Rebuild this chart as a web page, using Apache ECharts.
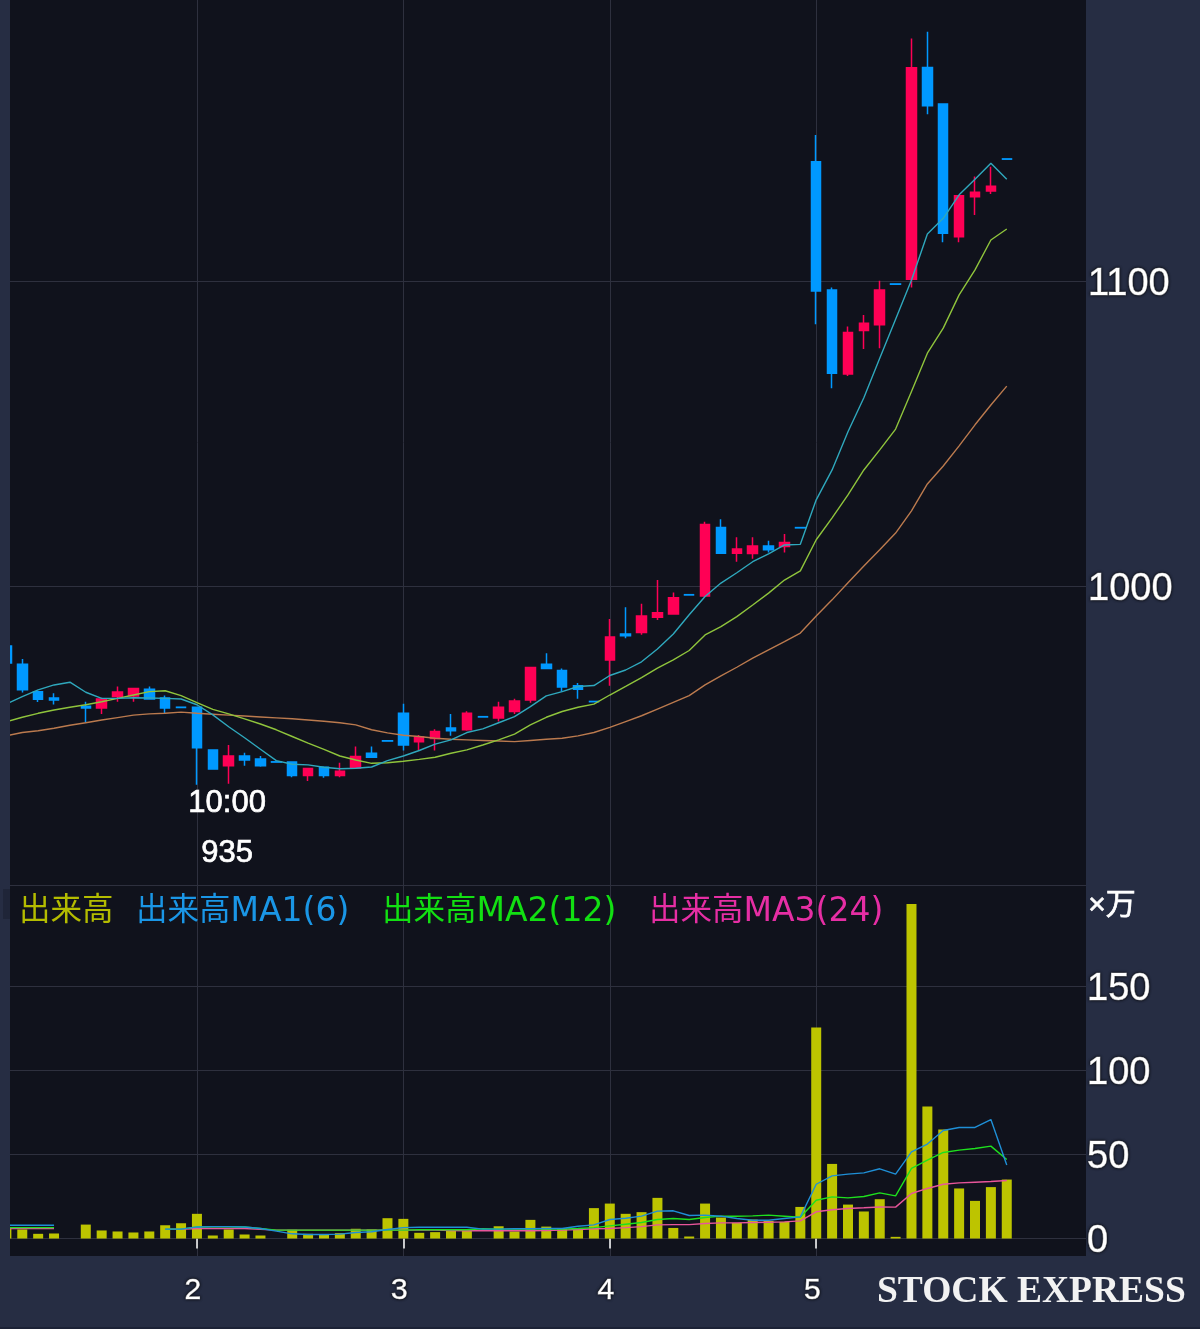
<!DOCTYPE html>
<html>
<head>
<meta charset="utf-8">
<title>STOCK EXPRESS</title>
<script src="https://cdn.jsdelivr.net/npm/echarts@6/dist/echarts.min.js"></script>
<style>
  html, body { margin: 0; padding: 0; background: #262d43; }
  #chart { width: 1200px; height: 1329px; }
</style>
</head>
<body>
<div id="chart"></div>
<script>
// [open, close, low, high], one per 5 minute slot
const candles = [
  [980.5,974.9,974.5,981],[974.5,966.1,965.2,976.2],[965.5,963,962.1,965.5],[963.4,962.8,961.3,965],null,
  [960.7,960.1,955.3,962.2],[960.1,963.1,958.2,963.5],[963.9,965.4,962.2,967.2],[964.1,966.5,962.2,966.5],[966.3,963.1,963.1,967.2],
  [963.4,960.1,958.4,964.2],[960.4,960.3,960.3,960.4],[960.4,947.1,935,960.4],[946.4,940.1,940.1,946.4],[941.2,944.4,935.3,948],
  [944.4,943.1,941.2,945.5],[943.4,941.2,940.9,944.4],[942.5,942.4,942.4,942.5],[942.4,938,937.4,942.6],[938,940.3,936.2,940.3],
  [940.7,938,937.3,940.7],[938,939.4,937.4,942.2],[940.5,944.2,940.3,947.5],[945.3,944,944,947.5],[949.4,949.3,949.3,949.4],
  [958.4,948,946.2,961.5],[949.1,950.6,946.4,951.3],[950.1,952.4,946.2,953.2],[953.6,952.7,951,958.2],[953,958.4,952.7,959.1],
  [957.3,957.2,957.2,957.3],[956.9,960.4,955.7,962.2],[959,962.4,958.2,963.2],[962.8,973.4,961.9,973.4],[974.5,973.1,973.1,978.1],
  [972.4,967,965.5,973.1],[967.4,966.3,963.2,968.3],[962.3,962.2,962.2,962.3],[975.9,983.4,967.4,989.3],[984.4,983.8,983,993.2],
  [984.9,990.3,984.2,994.3],[989.9,991.4,989,1002.1],[991,996.3,991,998],[997.3,997.2,997.2,997.3],[996.9,1020.3,996.5,1021.2],
  [1019.3,1010.9,1010.9,1022],[1010.9,1012.3,1008.1,1016.1],[1010.8,1013.3,1009.1,1016.1],[1013.3,1012,1011.1,1015],[1013.1,1014.4,1011.1,1017.2],
  [1019.3,1019.2,1019.2,1019.3],[1139.3,1096.9,1086,1148],[1097.2,1069.9,1065,1098],[1069.7,1083.3,1069,1085.2],[1083.9,1086.3,1077.9,1089],
  [1085.8,1097.2,1078.1,1100.2],[1099.2,1099.1,1099.1,1099.2],[1100.7,1170.1,1098,1179.7],[1170.2,1157.6,1154.8,1181.9],[1158.2,1115.8,1112.9,1158.2],
  [1114.7,1128.1,1112.9,1128.1],[1127.8,1129.3,1121.8,1134.4],[1129.7,1131.2,1128.7,1137.6],[1140.2,1140.1,1140.1,1140.2]
];
const priceMa1 = [961.5,963.9,966.1,967.7,968.6,965.3,963.3,963.3,963.5,963.4,963.3,963.1,961.2,957.9,954,950.4,946.6,942.9,941.7,941.5,940.7,940.2,940.4,940.8,942.9,944.4,946.2,948.3,949.7,952.1,953.3,955.3,957.3,960.6,964.1,965.5,967.2,967.5,970.8,972.6,975.3,979.5,984.4,990.7,996.7,1001.1,1004.5,1008.1,1010.7,1013.6,1013.8,1028.4,1038.2,1050.7,1061.9,1074.8,1087.6,1100.5,1115.6,1120.7,1128.4,1133.5,1138.8,1133.5];
const priceMa2 = [955.6,957.1,958.4,959.5,960.4,961.2,962.2,963.3,964.4,965.5,965.8,964.2,961.9,959.7,958.2,956.6,954.9,953,950.8,948.6,946.6,944.4,943.1,942,942.2,942.7,943.3,944,945.3,946.4,948,949.7,951.6,954.6,957.1,959,960.4,961.4,964.4,967.2,970.1,973.2,975.9,979,984.1,986.8,990.1,993.9,997.8,1002.1,1005.1,1015.3,1022.5,1030,1038.2,1044.8,1051.6,1063.9,1076.5,1084.7,1095.6,1103.8,1113.6,1117.2];
const priceMa3 = [951,952.1,952.7,953.5,954.5,955.3,956.2,957,957.8,958.2,958.4,958.8,958.4,958.1,957.8,957.5,957.2,956.9,956.6,956.2,955.8,955.3,954.6,953,952,951.2,950.8,950.2,949.9,949.7,949.5,949.3,949.1,949.5,949.9,950.2,951,952.1,953.8,955.7,957.6,959.8,962,964.2,967.7,970.7,973.5,976.5,979.2,981.9,984.7,990.3,995.6,1001.2,1006.7,1012,1017.5,1024.8,1033.6,1039.5,1046.1,1053,1059.5,1065.7];

// volume in 万 shares
const volume = [6.5,5.4,2.8,3,null,8.3,4.8,4.2,3.6,4.2,7.9,9.1,14.7,1.8,5.4,2.4,1.8,null,5.2,2.8,2.2,3.2,5.8,5.4,12.1,11.7,3.4,3.8,5,5,null,7.3,4.2,11.1,7.1,5.8,6,18.1,20.8,14.7,15.7,24.2,6.3,1.2,20.8,12.5,9.3,11.3,10.5,9.9,18.8,125.6,44.4,20.2,16.1,23.4,1,199.1,78.6,64.9,29.8,22.4,30.6,35.1];
const volumeMa1 = [7.9,7.9,7.9,7.9,null,null,null,null,null,null,5.6,5.6,6.9,7.1,7.1,6.9,6,4.4,2.8,2.4,2.4,2.6,3.6,4,5.4,6.5,6.7,6.7,6.7,6.7,5.6,5.6,5.8,5.8,6,6,7.3,8.1,11.3,12.1,13.3,16.3,16.5,13.7,13.9,13.3,11.9,10.9,10.9,11.9,12.9,32.3,37.3,38.3,39.1,41.5,38.3,51.6,56.2,64.3,66.1,66.1,70.8,43.7];
const volumeMa2 = [6.5,6.5,6.5,6.5,null,null,null,null,null,null,5.6,5.6,6.9,7,7,6.9,6,5,5,5,5,5,5,5,5,5,5.2,5.2,5.2,5.2,5.8,5.6,5.6,5.6,5.6,5.6,6,6.5,7.5,8.5,9.5,11.3,11.9,11.3,12.5,13.3,13.3,13.5,13.9,13.3,12.7,22.8,24.8,24.2,25,27.2,25.4,41.7,46.6,51.2,52.6,53.6,55,47];
const volumeMa3 = [6,6,6,6,null,null,null,null,null,null,5.5,5.5,6,6,6,6,5.5,5,5,5,5,5,5,5,5,5,5,5,4.8,4.6,4.6,4.6,4.6,4.6,4.8,5,5.4,5.8,6,6.5,7.1,8.1,8.3,8.3,8.9,9.3,9.3,9.5,9.7,9.9,10.5,15.9,17.1,17.9,18.3,18.8,18.7,26.8,29.8,32.3,33.1,33.5,33.9,34.5];

const hourTicks = [12, 25, 38, 51];
const hourLabels = { 12: '2', 25: '3', 38: '4', 51: '5' };
const priceTicks = [1000, 1100];
const volumeTicks = [0, 50, 100, 150];
const legendNames = ['出来高', '出来高MA1(6)', '出来高MA2(12)', '出来高MA3(24)'];
const legendLefts = [19, 136, 382, 649];
const legendColors = ['#b4bc00', '#1a96e6', '#12e012', '#e62ea4'];

const UP = '#ff0055';
const DOWN = '#0099ff';
const GRID_LINE = '#2e303e';
const PLOT_BG = '#10121c';
const PAGE_BG = '#262d43';
const JP_FONT = '"Noto Sans CJK JP", "Liberation Sans", sans-serif';
const LABEL_FONT = '"Liberation Sans", sans-serif';
const LATIN_FONT = '"DejaVu Sans", sans-serif';

const withIndex = arr => arr.map((v, i) => [i, v]);

// white text made a touch heavier, with a dark halo around it
const tickLabel = size => ({
  color: '#fff',
  fontFamily: LABEL_FONT,
  fontSize: size,
  textBorderColor: '#fff',
  textBorderWidth: 0.7,
  textShadowColor: '#000',
  textShadowBlur: 3
});

const priceLine = (data, color) => ({
  type: 'line',
  xAxisIndex: 0,
  yAxisIndex: 0,
  data: withIndex(data),
  showSymbol: false,
  lineStyle: { color: color, width: 1.4 },
  z: 4
});

const volumeLine = (name, data, color) => ({
  name: name,
  type: 'line',
  xAxisIndex: 1,
  yAxisIndex: 1,
  data: withIndex(data),
  connectNulls: false,
  showSymbol: false,
  itemStyle: { color: color },
  lineStyle: { color: color, width: 1.4 },
  z: 4
});

const xAxisBase = {
  type: 'value',
  min: 0.227,
  max: 67.99,
  axisLine: { show: false },
  splitLine: { show: true, lineStyle: { color: GRID_LINE, width: 1 } }
};

const yAxisBase = {
  type: 'value',
  position: 'right',
  axisLine: { show: false },
  axisTick: { show: false },
  splitLine: { show: true, lineStyle: { color: GRID_LINE, width: 1 } }
};

const overlayText = (text, left, top, font) => ({
  type: 'text',
  left: left,
  top: top,
  style: {
    text: text,
    fill: '#fff',
    font: font,
    stroke: '#fff',
    lineWidth: 0.7,
    shadowColor: '#000',
    shadowBlur: 3
  },
  z: 11
});

const option = {
  animation: false,
  backgroundColor: PAGE_BG,
  grid: [
    { left: 10, top: 0, width: 1076, height: 885, show: true, backgroundColor: PLOT_BG, borderWidth: 0 },
    { left: 10, top: 886, width: 1076, height: 370, show: true, backgroundColor: PLOT_BG, borderWidth: 0 }
  ],
  legend: legendNames.map((name, i) => ({
    left: legendLefts[i],
    top: 892,
    selectedMode: false,
    icon: 'none',
    itemWidth: 0,
    itemGap: 0,
    padding: 0,
    data: [name],
    formatter: n => '{jp|' + n.slice(0, 3) + '}{en|' + n.slice(3) + '}',
    textStyle: {
      padding: [0, 0, 0, -5],
      rich: {
        jp: { color: legendColors[i], fontFamily: JP_FONT, fontSize: 31.5, lineHeight: 36, verticalAlign: 'top' },
        en: { color: legendColors[i], fontFamily: LATIN_FONT, fontSize: 33, lineHeight: 36, verticalAlign: 'top', padding: [4, 0, 0, 0] }
      }
    }
  })),
  xAxis: [
    {
      ...xAxisBase,
      gridIndex: 0,
      axisTick: { show: false, customValues: hourTicks },
      axisLabel: { show: false }
    },
    {
      ...xAxisBase,
      gridIndex: 1,
      axisTick: { show: true, length: 10, customValues: hourTicks, lineStyle: { color: '#fff', width: 1.5 } },
      axisLabel: {
        ...tickLabel(30),
        margin: 20,
        padding: [0, 8, 0, 0],
        customValues: hourTicks,
        formatter: v => hourLabels[v]
      }
    }
  ],
  yAxis: [
    {
      ...yAxisBase,
      gridIndex: 0,
      min: 902.1,
      max: 1192.3,
      axisTick: { show: false, customValues: priceTicks },
      axisLabel: { ...tickLabel(38), margin: 2, verticalAlign: 'top', padding: [-16, 0, 0, 0], customValues: priceTicks, formatter: v => String(v) }
    },
    {
      ...yAxisBase,
      gridIndex: 1,
      min: -10.4,
      max: 209.8,
      axisTick: { show: false, customValues: volumeTicks },
      axisLabel: { ...tickLabel(38), margin: 1, verticalAlign: 'top', padding: [-16, 0, 0, 0], customValues: volumeTicks, formatter: v => String(v) }
    }
  ],
  series: [
    {
      type: 'candlestick',
      xAxisIndex: 0,
      yAxisIndex: 0,
      barWidth: 10,
      data: candles.map((c, i) => (c ? [i, ...c] : null)).filter(Boolean),
      itemStyle: { color: UP, color0: DOWN, borderColor: UP, borderColor0: DOWN, borderWidth: 1.5 },
      z: 3
    },
    priceLine(priceMa3, '#bb7a4e'),
    priceLine(priceMa2, '#8fc43c'),
    priceLine(priceMa1, '#2fa8bd'),
    {
      name: legendNames[0],
      type: 'bar',
      xAxisIndex: 1,
      yAxisIndex: 1,
      barWidth: 10,
      data: withIndex(volume).filter(d => d[1] !== null),
      itemStyle: { color: '#bdc400' },
      z: 3
    },
    volumeLine(legendNames[3], volumeMa3, '#e8559a'),
    volumeLine(legendNames[2], volumeMa2, '#1ee01e'),
    volumeLine(legendNames[1], volumeMa1, '#1f8fd6')
  ],
  graphic: [
    // left strip hides the part of the first slot that falls outside the plot
    { type: 'rect', left: 0, top: 0, shape: { width: 10, height: 1329 }, style: { fill: PAGE_BG }, z: 10 },
    { type: 'rect', left: 3, top: 889, shape: { width: 7, height: 30 }, style: { fill: '#1f2538' }, z: 10 },
    { type: 'rect', left: 10, top: 885, shape: { width: 1076, height: 1 }, style: { fill: '#2e303e' }, z: 10 },
    { type: 'rect', left: 0, top: 1327, shape: { width: 1200, height: 2 }, style: { fill: '#1c2236' }, z: 10 },
    overlayText('×万', 1088, 890, '30px "Liberation Sans", "Noto Sans CJK JP", sans-serif'),
    overlayText('10:00', 188, 788, '31px ' + LABEL_FONT),
    overlayText('935', 201, 838, '31px ' + LABEL_FONT),
    { type: 'text', left: 877, top: 1273, style: { text: 'STOCK EXPRESS', fill: '#f2f2f2', font: 'bold 37.5px "Liberation Serif", serif' }, z: 11 }
  ]
};

const chart = echarts.init(document.getElementById('chart'));
chart.setOption(option);
</script>
</body>
</html>
